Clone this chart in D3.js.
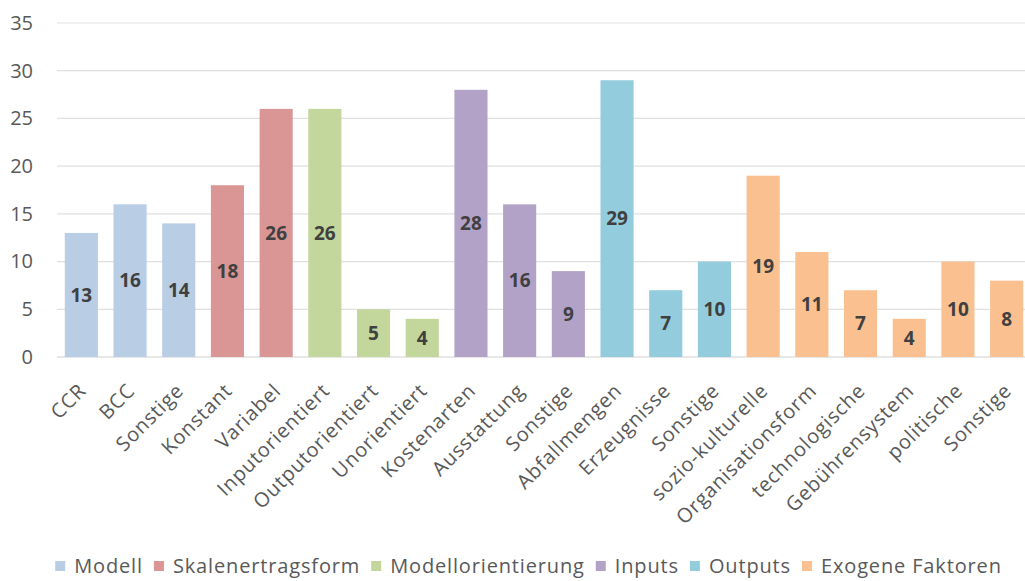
<!DOCTYPE html>
<html lang="de">
<head>
    <meta charset="UTF-8">
    <title>Kategorien</title>
    <script src="https://d3js.org/d3.v7.min.js"></script>
    <style>
        body { margin: 0; background: #fff; }
        text { font-family: "Open Sans", Lato, sans-serif; }
    </style>
</head>
<body>
    <svg id="chart"></svg>
    <script>
        // chart data
        var categories = ["CCR", "BCC", "Sonstige", "Konstant", "Variabel", "Inputorientiert",
            "Outputorientiert", "Unorientiert", "Kostenarten", "Ausstattung", "Sonstige ", "Abfallmengen",
            "Erzeugnisse", "Sonstige  ", "sozio-kulturelle", "Organisationsform", "technologische",
            "Gebührensystem", "politische", "Sonstige   "];
        var values = [13, 16, 14, 18, 26, 26, 5, 4, 28, 16, 9, 29, 7, 10, 19, 11, 7, 4, 10, 8];
        var groupOf = [0, 0, 0, 1, 1, 2, 2, 2, 3, 3, 3, 4, 4, 4, 5, 5, 5, 5, 5, 5];
        var groups = ["Modell", "Skalenertragsform", "Modellorientierung", "Inputs", "Outputs", "Exogene Faktoren"];
        var groupColors = ["#B9CDE5", "#D99694", "#C3D69B", "#B3A2C7", "#93CDDD", "#FAC090"];
        var yTicks = [0, 5, 10, 15, 20, 25, 30, 35];

        var W = 1025, H = 581;
        var margin = { top: 23, right: -6, bottom: 224, left: 57 };
        var width = W - margin.left - margin.right,
            height = H - margin.top - margin.bottom;

        var svg = d3.select("#chart")
            .attr("width", W)
            .attr("height", H)
            .append("g")
            .attr("transform", "translate(" + margin.left + "," + margin.top + ")");

        var x = d3.scaleBand()
            .domain(categories)
            .range([0, width])
            .paddingInner(0.32)
            .paddingOuter(0.16);

        var y = d3.scaleLinear()
            .domain([0, 35])
            .range([height, 0]);

        // gridlines
        svg.selectAll(".grid")
            .data(yTicks)
            .enter().append("line")
            .attr("x1", 0)
            .attr("x2", width)
            .attr("y1", d => y(d))
            .attr("y2", d => y(d))
            .attr("stroke", d => d === 0 ? "#d0d0d0" : "#e0e0e0")
            .attr("stroke-width", 1.2);

        // y axis labels
        var yAxis = svg.append("g")
            .call(d3.axisLeft(y).tickValues(yTicks).tickSize(0).tickPadding(24));
        yAxis.select(".domain").remove();
        yAxis.selectAll("text")
            .attr("fill", "#595959")
            .style("font-size", "20px");

        // bars
        svg.selectAll(".bar")
            .data(values)
            .enter().append("rect")
            .attr("x", (d, i) => x(categories[i]))
            .attr("y", d => y(d))
            .attr("width", x.bandwidth())
            .attr("height", d => height - y(d))
            .attr("fill", (d, i) => groupColors[groupOf[i]]);

        // value labels
        svg.selectAll(".val")
            .data(values)
            .enter().append("text")
            .attr("x", (d, i) => x(categories[i]) + x.bandwidth() / 2)
            .attr("y", d => (y(d) + height) / 2)
            .attr("dy", "0.36em")
            .attr("text-anchor", "middle")
            .attr("fill", "#404040")
            .style("font-size", "19px")
            .style("font-weight", "bold")
            .text(d => d);

        // x labels
        svg.selectAll(".xl")
            .data(categories)
            .enter().append("text")
            .attr("text-anchor", "end")
            .attr("fill", "#595959")
            .style("font-size", "20px")
            .style("letter-spacing", "0.8px")
            .attr("transform", d => "translate(" + (x(d) + x.bandwidth() / 2 + 6) + "," + (height + 35) + ") rotate(-45)")
            .text(d => d.trim());

        // legend
        var legend = d3.select("#chart").append("g");
        var lx = 0;
        groups.forEach(function(g, i) {
            var item = legend.append("g").attr("transform", "translate(" + lx + ",0)");
            item.append("rect")
                .attr("x", 0).attr("y", -5)
                .attr("width", 10).attr("height", 10)
                .attr("fill", groupColors[i]);
            var t = item.append("text")
                .attr("x", 19).attr("y", 0)
                .attr("dy", "0.35em")
                .attr("fill", "#595959")
                .style("font-size", "20px")
                .style("letter-spacing", "0.85px")
                .text(g);
            lx += 19 + t.node().getComputedTextLength() + 11;
        });
        legend.attr("transform", "translate(" + ((W - lx + 11) / 2 + 16) + ",566)");
    </script>
</body>
</html>
